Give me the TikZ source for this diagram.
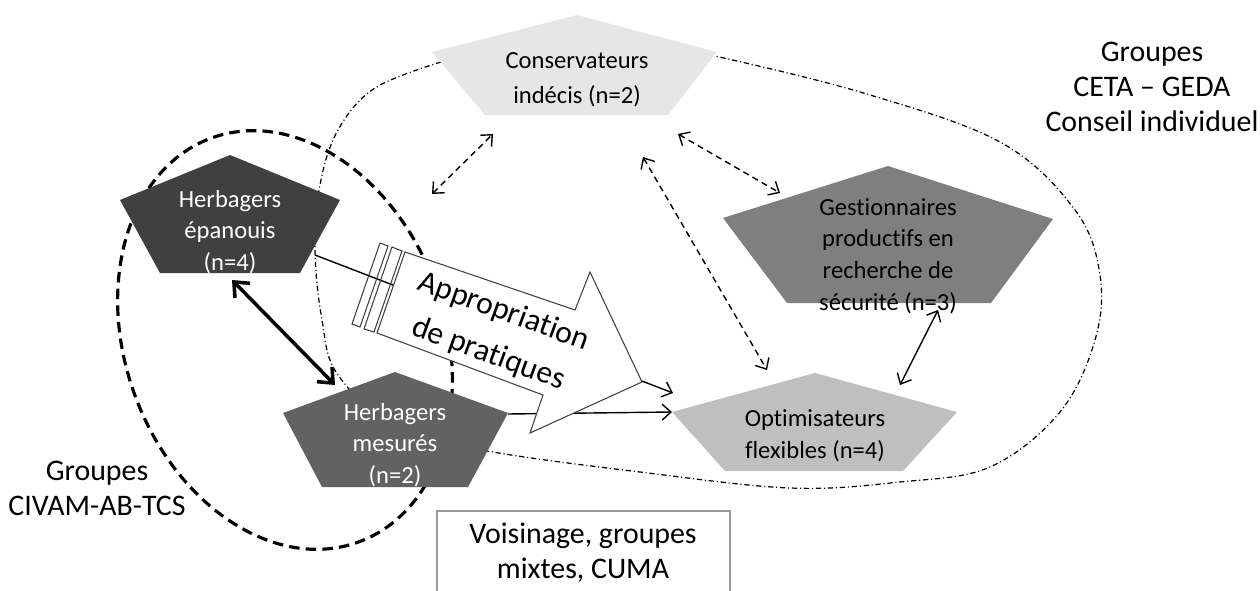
\documentclass[tikz,border=0pt]{standalone}
\usepackage{fontspec}
\setmainfont{Carlito}[Ligatures=NoCommon]
\usetikzlibrary{arrows.meta}

\definecolor{consgray}{HTML}{E6E6E6}
\definecolor{epangray}{HTML}{404040}
\definecolor{mesgray}{HTML}{626262}
\definecolor{gestgray}{HTML}{7F7F7F}
\definecolor{optigray}{HTML}{BFBFBF}

\begin{document}
\begin{tikzpicture}[x=0.02cm,y=-0.02cm,
  label/.style={align=center,font=\fontsize{14}{18}\selectfont},
  grouplabel/.style={align=center,font=\fontsize{17}{20}\selectfont},
  dashdot/.style={line width=0.7pt,dash pattern=on 3pt off 1.6pt on 0.6pt off 1.6pt},
  ring/.style={line width=1.8pt,dash pattern=on 6pt off 3.5pt},
  exchange/.style={line width=0.8pt,dash pattern=on 3.5pt off 2.5pt,
    {Straight Barb[length=5pt,width=9pt]}-{Straight Barb[length=5pt,width=9pt]}},
  flow/.style={line width=0.8pt,-{Straight Barb[length=5pt,width=9pt]}}]
  \useasboundingbox (0,0) rectangle (1260,591);

  % groups
  \draw[ring,rotate around={20:(285,340)}] (285,340) ellipse [x radius=3.2cm, y radius=4.3cm];
  \draw[dashdot] plot[smooth,tension=0.6] coordinates {(441,62) (375,88) (338,130) (320,185)
    (315,250) (322,320) (338,375) (400,430) (493,452) (640,472) (790,488) (900,482)
    (990,467) (1060,412) (1095,340) (1100,275) (1075,210) (1000,142) (860,92) (715,56)};

  % end points of the connectors
  \coordinate (epan-e) at (315,255);
  \coordinate (epan-s) at (232,280);
  \coordinate (mes-e) at (508,414);
  \coordinate (mes-n) at (335,385);
  \coordinate (opti-w) at (672,412);
  \coordinate (opti-nw) at (673,393);
  \coordinate (opti-n) at (767,370);
  \coordinate (opti-ne) at (900,385);
  \coordinate (cons-sw) at (493,134);
  \coordinate (cons-s) at (643,157);
  \coordinate (cons-se) at (678,134);
  \coordinate (epan-ne) at (432,194);
  \coordinate (gest-nw) at (780,193);
  \coordinate (gest-s) at (938,310);

  \draw[flow] (epan-e) -- (opti-nw);
  \draw[flow] (mes-e) -- (opti-w);

  % big arrow
  \draw[fill=white,draw=epangray,line width=0.6pt] (405,252) -- (575,310) -- (590,272) -- (642,382)
    -- (530,433) -- (543,395) -- (377,333) -- cycle;
  \draw[draw=epangray,line width=0.6pt] (392,247) -- (402,251) -- (374,332) -- (364,329) -- cycle;
  \draw[draw=epangray,line width=0.6pt] (380,243) -- (388,246) -- (360,327) -- (352,324) -- cycle;
  \node[rotate=-20,align=center,font=\fontsize{18}{25.5}\selectfont] (appro) at (496,333)
    {Appropriation\\de pratiques};

  % types
  \fill[consgray] (577,15) -- (717,52) -- (668,115) -- (485,115) -- (432,52) -- cycle;
  \fill[epangray] (230,155) -- (340,200) -- (300,273) -- (160,273) -- (120,200) -- cycle;
  \fill[mesgray] (395,372) -- (508,413) -- (468,487) -- (322,487) -- (283,413) -- cycle;
  \fill[gestgray] (888,166) -- (1053,219) -- (991,303) -- (787,303) -- (723,218) -- cycle;
  \fill[optigray] (815,373) -- (957,412) -- (903,471) -- (725,471) -- (672,412) -- cycle;

  \node[label,font=\fontsize{14}{20}\selectfont] (cons) at (577,80) {Conservateurs\\indécis (n=2)};
  \node[label,white] (epan) at (230,232) {Herbagers\\épanouis\\(n=4)};
  \node[label,white] (mes) at (395,445) {Herbagers\\mesurés\\(n=2)};
  \node[label] (gest) at (888,256) {Gestionnaires\\productifs en\\recherche de\\sécurité (n=3)};
  \node[label] (opti) at (815,436) {Optimisateurs\\flexibles (n=4)};

  \draw[line width=2pt,{Straight Barb[length=7pt,width=12pt]}-{Straight Barb[length=7pt,width=12pt]}]
    (epan-s) -- (mes-n);
  \draw[exchange] (epan-ne) -- (cons-sw);
  \draw[exchange] (cons-s) -- (opti-n);
  \draw[exchange] (cons-se) -- (gest-nw);
  \draw[line width=0.8pt,{Straight Barb[length=5pt,width=9pt]}-{Straight Barb[length=5pt,width=9pt]}]
    (gest-s) -- (opti-ne);

  \node[grouplabel] (ceta) at (1152,87) {Groupes\\CETA – GEDA\\Conseil individuel};
  \node[grouplabel] (civam) at (97,488) {Groupes\\CIVAM-AB-TCS};
  \draw[black!40,line width=0.6pt] (437,600) -- (437,511) -- (730,511) -- (730,600);
  \node[grouplabel] (vois) at (583,553) {Voisinage, groupes\\mixtes, CUMA};
\end{tikzpicture}
\end{document}
